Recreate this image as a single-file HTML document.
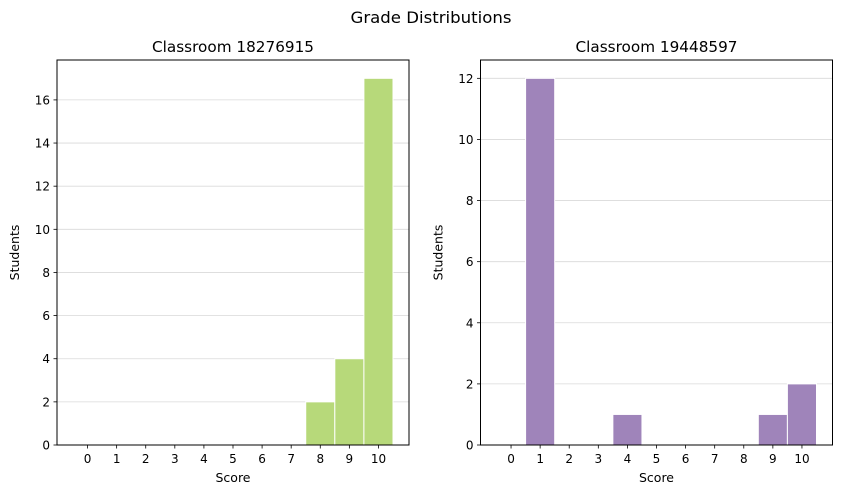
<!DOCTYPE html>
<html><head><meta charset="utf-8"><style>
body{margin:0;background:#fff;font-family:"Liberation Sans","DejaVu Sans",sans-serif;}
svg text{font-family:"DejaVu Sans","Liberation Sans",sans-serif;}
</style></head><body>
<svg id="c" width="842" height="498" xmlns="http://www.w3.org/2000/svg">
<text x="431" y="23" text-anchor="middle" font-size="16" textLength="161" lengthAdjust="spacingAndGlyphs">Grade Distributions</text>
</svg>
<script>
const scores=[0,1,2,3,4,5,6,7,8,9,10];
const countsA=[0,0,0,0,0,0,0,0,2,4,17];
const countsB=[0,12,0,0,1,0,0,0,0,1,2];
const ticksA=[0,2,4,6,8,10,12,14,16];
const ticksB=[0,2,4,6,8,10,12];
const titles=["Classroom 18276915","Classroom 19448597"];
const NS="http://www.w3.org/2000/svg";
const svg=document.getElementById('c');
function mk(t,a,p){const e=document.createElementNS(NS,t);for(const k in a)e.setAttribute(k,a[k]);(p||svg).appendChild(e);return e;}
function panel(L,R,T,B,counts,ticks,color,title,key){
  const g=mk('g',{});
  
  
  const ymax=Math.max(...counts)*1.05;
  const xs=v=>L+(v+1.05)/12.1*(R-L);
  const ys=v=>B-v/ymax*(B-T);
  ticks.forEach(t=>{
    const l=mk('line',{x1:L,x2:R,y1:ys(t),y2:ys(t),stroke:'#d9d9d9','stroke-width':0.8},g);
    
    
    mk('line',{x1:L-3.5,x2:L,y1:ys(t),y2:ys(t),stroke:'#000','stroke-width':0.8},g);
    const tx=mk('text',{x:L-7,y:ys(t)+4.5,'text-anchor':'end','font-size':12},g);
    tx.textContent=t;
    
    
  });
  scores.forEach((s,i)=>{
    if(counts[i]>0){
      const r=mk('rect',{x:xs(s-0.5),y:ys(counts[i]),width:xs(s+0.5)-xs(s-0.5),height:B-ys(counts[i]),fill:color,stroke:'#fff','stroke-width':1},g);
      
      
    }
    mk('line',{x1:xs(s),x2:xs(s),y1:B,y2:B+3.5,stroke:'#000','stroke-width':0.8},g);
    const tx=mk('text',{x:xs(s),y:B+18,'text-anchor':'middle','font-size':12},g);
    tx.textContent=s;
    
    
  });
  const fr=mk('rect',{x:L,y:T,width:R-L,height:B-T,fill:'none',stroke:'#000','stroke-width':1},g);
  
  
  const tt=mk('text',{x:(L+R)/2,y:T-8,'text-anchor':'middle','font-size':15.5,textLength:162,lengthAdjust:'spacingAndGlyphs'},g);
  tt.textContent=title;
  
  
  const xl=mk('text',{x:(L+R)/2,y:B+37,'text-anchor':'middle','font-size':12.5},g);
  xl.textContent='Score';
  
  
  const yl=mk('text',{x:0,y:0,'text-anchor':'middle','font-size':12.5,transform:`translate(${L-38},${(T+B)/2}) rotate(-90)`},g);
  yl.textContent='Students';
  
  
}
panel(57,409,60,445,countsA,ticksA,'#b7d97a',titles[0],'left');
panel(480.5,832.5,60,445,countsB,ticksB,'#9f84ba',titles[1],'right');
</script>
</body></html>
